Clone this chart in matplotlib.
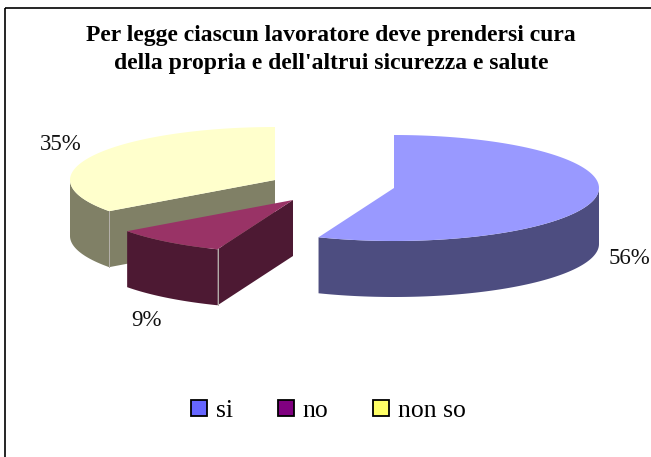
import matplotlib
matplotlib.use("Agg")
import matplotlib.pyplot as plt
import numpy as np
from matplotlib.patches import Patch, Polygon, Rectangle

plt.rcParams['font.family'] = ['Liberation Serif', 'DejaVu Serif']

title_lines = ["Per legge ciascun lavoratore deve prendersi cura",
               "della propria e dell'altrui sicurezza e salute"]
categories = ["si", "no", "non so"]
percent = [56, 9, 35]
percent_labels = ["56%", "9%", "35%"]
top_colors = ["#9999FF", "#993366", "#FFFFCC"]
side_colors = ["#4D4D80", "#4D1933", "#808066"]
legend_colors = ["#6666FF", "#800080", "#FFFF66"]

# pixel layout of the exploded 3d pie
centers = [(394, 188), (293, 200), (275, 180)]
label_pos = [(629, 258), (146, 320), (61, 144)]
rx, ry = 205, 53
depth = 56


def rim(cx, cy, a0, a1):
    # angles are degrees clockwise from 12 o'clock
    t = np.radians(np.linspace(a0, a1, 120))
    return np.column_stack([cx + rx * np.sin(t), cy - ry * np.cos(t)])


def drop(pts):
    return pts + np.array([0, depth])


fig = plt.figure(figsize=(6.51, 4.57), dpi=100)
ax = fig.add_axes([0, 0, 1, 1])
ax.set_xlim(0, 651)
ax.set_ylim(457, 0)
ax.axis("off")

ax.add_patch(Rectangle((5, 8), 700, 500, fill=False, ec="black", lw=1.2))

bounds = np.concatenate([[0], np.cumsum(percent) * 3.6])

# back to front: non so, no, si
for i in [2, 1, 0]:
    cx, cy = centers[i]
    a0, a1 = bounds[i], bounds[i + 1]
    top = np.vstack([[cx, cy], rim(cx, cy, a0, a1)])

    # outer wall, only the part facing the viewer (90..270 degrees)
    v0, v1 = max(a0, 90), min(a1, 270)
    wall = rim(cx, cy, v0, v1)
    ax.add_patch(Polygon(np.vstack([wall, drop(wall)[::-1]]), fc=side_colors[i], ec="none", zorder=i * -3 + 7))

    # cut face that can be seen from the front
    if i > 0:
        corner = rim(cx, cy, a0, a0)[0]
        face = np.array([[cx, cy], corner])
        ax.add_patch(Polygon(np.vstack([face, drop(face)[::-1]]), fc=side_colors[i], ec="none", zorder=i * -3 + 7))
        ax.plot([corner[0], corner[0]], [corner[1], corner[1] + depth], color="#B5B0AA", lw=0.7, zorder=i * -3 + 8)

    ax.add_patch(Polygon(top, fc=top_colors[i], ec="none", zorder=i * -3 + 9))

for txt, (x, y) in zip(percent_labels, label_pos):
    ax.text(x, y, txt, ha="center", va="center", fontsize=16.5, color="#111111")

ax.text(331, 35, title_lines[0], ha="center", va="center", fontsize=17, fontweight="bold")
ax.text(331, 63, title_lines[1], ha="center", va="center", fontsize=17, fontweight="bold")

handles = [Patch(fc=c, ec="black", lw=1.3) for c in legend_colors]
ax.legend(handles, categories, loc="center", bbox_to_anchor=(328.5 / 651, 1 - 411 / 457),
          ncol=3, frameon=False, fontsize=18.5, handlelength=0.62, handleheight=0.62,
          handletextpad=0.35, columnspacing=1.75, borderpad=0)

fig.savefig("out.png", dpi=100)
